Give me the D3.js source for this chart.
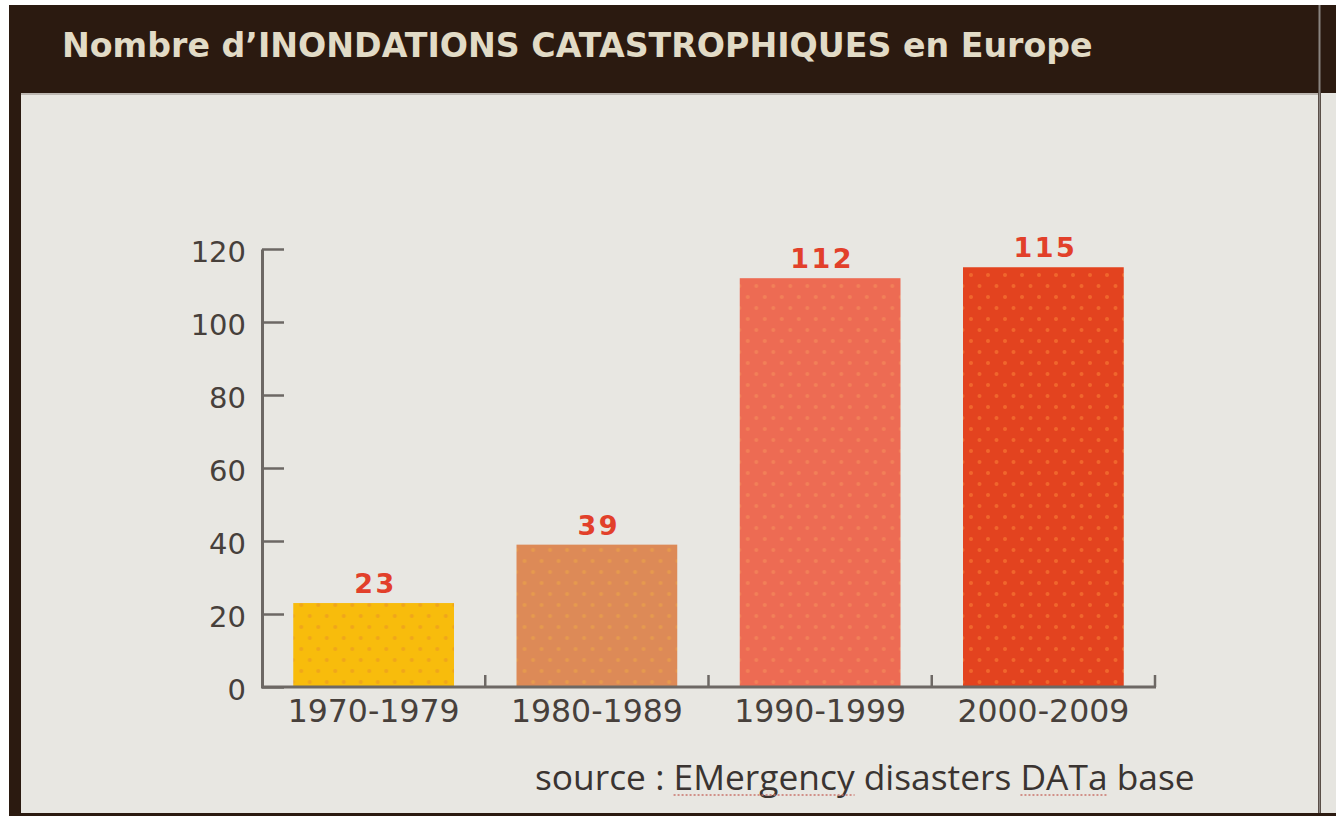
<!DOCTYPE html>
<html>
<head>
<meta charset="utf-8">
<script src="https://cdn.jsdelivr.net/npm/d3@7"></script>
<style>
  html, body { margin: 0; padding: 0; background: #ffffff; }
  svg { display: block; }
</style>
</head>
<body>
<svg id="chart" width="1336" height="816"></svg>
<script>
// Chart data
const categories = ["1970-1979", "1980-1989", "1990-1999", "2000-2009"];
const values = [23, 39, 112, 115];
const barColors = ["#f8bc0c", "#dd8a57", "#ed6b53", "#e3431f"];
const dotColors = ["#f0a61a", "#e69a4e", "#f28058", "#f0662c"];
const yTicks = [0, 20, 40, 60, 80, 100, 120];
const titleText = "Nombre d\u2019INONDATIONS CATASTROPHIQUES en Europe";
const sourceText = "source : EMergency disasters DATa base";

const W = 1336, H = 816;
const svg = d3.select("#chart");

// Frame: dark header band and light panel
svg.append("rect").attr("x", 9).attr("y", 5).attr("width", W - 9).attr("height", H - 5).attr("fill", "#2b1a10");
svg.append("rect").attr("x", 21).attr("y", 93).attr("width", 1297).attr("height", 720).attr("fill", "#e8e7e2");
svg.append("rect").attr("x", 1321).attr("y", 93).attr("width", 15).attr("height", 720).attr("fill", "#e6e5e0");
svg.append("line").attr("x1", 1319.5).attr("x2", 1319.5).attr("y1", 5).attr("y2", 813)
  .attr("stroke", "#8a8480").attr("stroke-width", 2);
svg.append("line").attr("x1", 21).attr("x2", 1318).attr("y1", 94).attr("y2", 94)
  .attr("stroke", "#bdb8b2").attr("stroke-width", 2);

// Scale a text's font size so it spans the given width
function fitWidth(sel, target) {
  const fs = parseFloat(sel.attr("font-size"));
  const w = sel.node().getComputedTextLength();
  sel.attr("font-size", (fs * target / w).toFixed(2));
}

// Title
const title = svg.append("text")
  .attr("x", 62).attr("y", 57)
  .attr("font-family", "DejaVu Sans, sans-serif")
  .attr("font-weight", "bold")
  .attr("font-size", 22)
  .attr("fill", "#e2dbc6")
  .text(titleText);
fitWidth(title, 1031);

// Scales
const x = d3.scaleBand().domain(categories).range([262, 1155]).paddingInner(0).paddingOuter(0);
const y = d3.scaleLinear().domain([0, 120]).range([687, 249]);
const barW = x.bandwidth() * 0.72;

// Dotted fill patterns per bar
const defs = svg.append("defs");
categories.forEach((c, i) => {
  const p = defs.append("pattern")
    .attr("id", "dots" + i)
    .attr("patternUnits", "userSpaceOnUse")
    .attr("width", 17).attr("height", 22)
    .attr("x", x(c) + (x.bandwidth() - barW) / 2 + 4).attr("y", 6);
  p.append("rect").attr("width", 17).attr("height", 22).attr("fill", barColors[i]);
  p.append("circle").attr("cx", 4).attr("cy", 5).attr("r", 2).attr("fill", dotColors[i]);
  p.append("circle").attr("cx", 12.5).attr("cy", 16).attr("r", 2).attr("fill", dotColors[i]);
});

// Bars
svg.append("g").selectAll("rect")
  .data(values)
  .join("rect")
  .attr("x", (d, i) => x(categories[i]) + (x.bandwidth() - barW) / 2)
  .attr("y", d => y(d))
  .attr("width", barW)
  .attr("height", d => y(0) - y(d))
  .attr("fill", (d, i) => "url(#dots" + i + ")");

// Value labels
svg.append("g").selectAll("text")
  .data(values)
  .join("text")
  .attr("x", (d, i) => x(categories[i]) + x.bandwidth() / 2 + 2)
  .attr("y", d => y(d) - 10)
  .attr("text-anchor", "middle")
  .attr("font-family", "DejaVu Sans, sans-serif")
  .attr("font-weight", "bold")
  .attr("font-size", 27)
  .attr("letter-spacing", 2.5)
  .attr("fill", "#e2402a")
  .text(d => d);

const axisColor = "#6d6864";
const labelColor = "#47403b";

// Y axis: ticks point into the plot
const yAxis = svg.append("g")
  .attr("transform", "translate(262,0)")
  .call(d3.axisLeft(y).tickValues(yTicks).tickSizeInner(-22).tickSizeOuter(0).tickPadding(16));
yAxis.select(".domain").attr("stroke", axisColor).attr("stroke-width", 3);
yAxis.selectAll(".tick line").attr("stroke", axisColor).attr("stroke-width", 2.5);
yAxis.selectAll(".tick text")
  .attr("font-family", "DejaVu Sans, sans-serif")
  .attr("font-size", 29)
  .attr("fill", labelColor)
  .attr("dy", "0.42em");

// X axis: labels centred on bands, separators at band edges
const xAxis = svg.append("g")
  .attr("transform", `translate(0,${y(0)})`)
  .call(d3.axisBottom(x).tickSize(0).tickPadding(10));
xAxis.select(".domain").attr("stroke", axisColor).attr("stroke-width", 3).attr("d", `M261,0H1156`);
xAxis.selectAll(".tick text")
  .attr("font-family", "DejaVu Sans, sans-serif")
  .attr("font-size", 29)
  .attr("fill", labelColor)
  .attr("dy", "0.78em")
  .each(function () { fitWidth(d3.select(this), 172); });

const edges = categories.slice(1).map(c => x(c)).concat([x(categories[categories.length - 1]) + x.bandwidth()]);
xAxis.append("g").selectAll("line")
  .data(edges)
  .join("line")
  .attr("x1", d => d).attr("x2", d => d)
  .attr("y1", 0).attr("y2", -12)
  .attr("stroke", axisColor).attr("stroke-width", 2.5);

// Source note
const src = svg.append("text")
  .attr("x", 535).attr("y", 790)
  .attr("font-family", "Open Sans, sans-serif")
  .attr("font-size", 28)
  .attr("fill", "#3a3431")
  .text(sourceText);
fitWidth(src, 660);

// Dotted underline beneath the two flagged words
const srcNode = src.node();
[["EMergency"], ["DATa"]].forEach(([word]) => {
  const start = sourceText.indexOf(word);
  const x0 = srcNode.getStartPositionOfChar(start).x;
  const x1 = srcNode.getEndPositionOfChar(start + word.length - 1).x;
  svg.append("line")
    .attr("x1", x0).attr("x2", x1)
    .attr("y1", 795).attr("y2", 795)
    .attr("stroke", "#c9756c").attr("stroke-width", 1.5)
    .attr("stroke-dasharray", "2,2");
});
</script>
</body>
</html>
